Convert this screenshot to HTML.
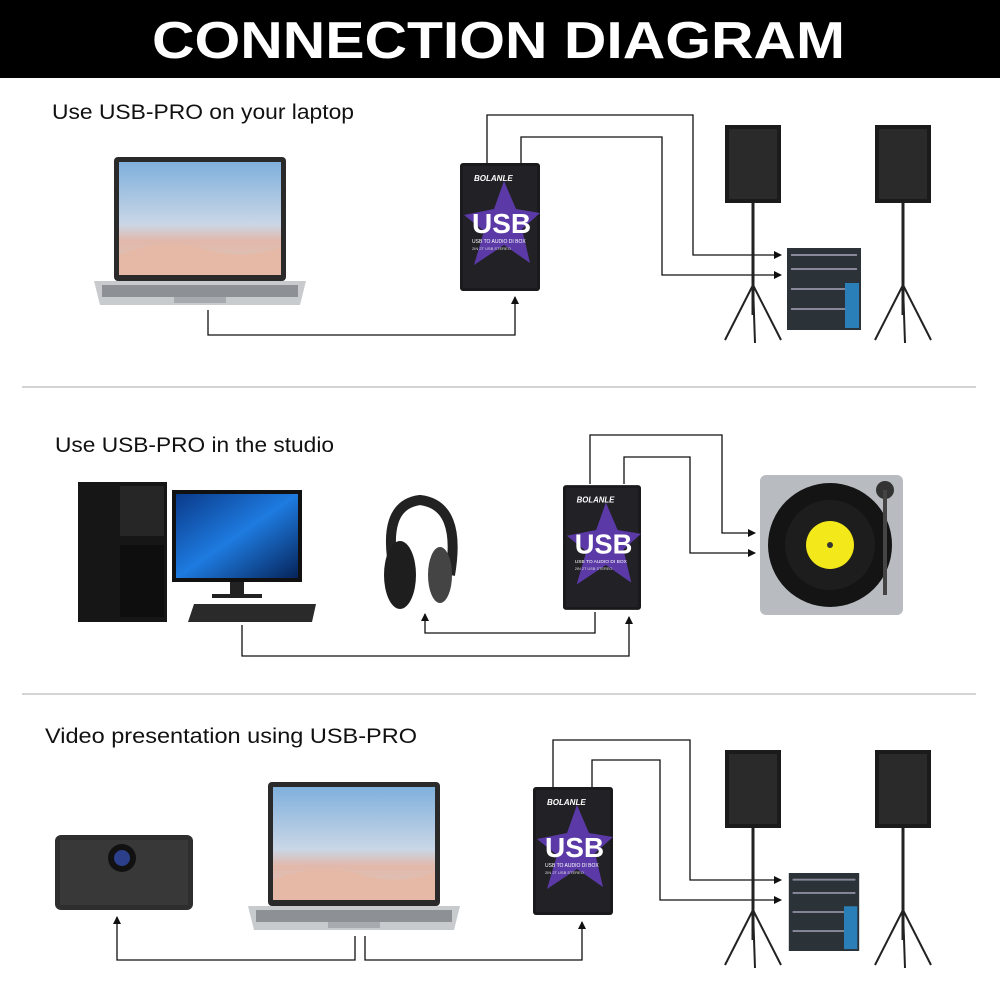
<!DOCTYPE html>
<html><head><meta charset="utf-8"><style>
html,body{margin:0;padding:0;background:#fff;}
svg{display:block;}
text{font-family:"Liberation Sans",sans-serif;}
</style></head><body>
<svg width="1000" height="1000" viewBox="0 0 1000 1000" xmlns="http://www.w3.org/2000/svg">
<defs>
<marker id="ar" markerWidth="8" markerHeight="8" refX="7" refY="4" orient="auto" markerUnits="userSpaceOnUse"><path d="M0,0 L8,4 L0,8 z" fill="#111"/></marker>
<linearGradient id="scr" x1="0" y1="0" x2="0" y2="1"><stop offset="0" stop-color="#7fb0dc"/><stop offset="0.55" stop-color="#c9d6e6"/><stop offset="0.7" stop-color="#e2b8aa"/><stop offset="1" stop-color="#d9c9c0"/></linearGradient>
<linearGradient id="win" x1="0" y1="0" x2="1" y2="1"><stop offset="0" stop-color="#0a3a8a"/><stop offset="0.5" stop-color="#1e7be0"/><stop offset="1" stop-color="#06245a"/></linearGradient>
<symbol id="usb" viewBox="0 0 80 128">
<rect x="0" y="0" width="80" height="128" rx="3" fill="#1a1a1d"/>
<rect x="3" y="3" width="74" height="122" fill="#222226"/>
<polygon points="44,18 56,46 80,50 62,66 70,100 44,82 14,102 24,68 4,52 34,46" fill="#5b3aa8"/>
<text x="14" y="18" font-size="8" font-style="italic" font-weight="bold" fill="#fff">BOLANLE</text>
<text x="12" y="70" font-size="28" font-weight="bold" fill="#fff">USB</text>
<text x="12" y="80" font-size="5" fill="#fff">USB TO AUDIO DI BOX</text>
<text x="12" y="87" font-size="4" fill="#ddd">2IN 2T USB STEREO</text>
</symbol>
<symbol id="spk" viewBox="0 0 60 220">
<rect x="2" y="0" width="56" height="78" fill="#1b1b1b"/>
<rect x="6" y="4" width="48" height="70" fill="#2a2a2a"/>
<line x1="30" y1="78" x2="30" y2="190" stroke="#222" stroke-width="3"/>
<line x1="30" y1="160" x2="2" y2="215" stroke="#222" stroke-width="2"/>
<line x1="30" y1="160" x2="58" y2="215" stroke="#222" stroke-width="2"/>
<line x1="30" y1="160" x2="32" y2="218" stroke="#222" stroke-width="2"/>
</symbol>
<symbol id="mix" viewBox="0 0 74 82">
<rect x="0" y="0" width="74" height="82" fill="#2c3338"/>
<rect x="4" y="6" width="66" height="2" fill="#889"/>
<rect x="4" y="20" width="66" height="2" fill="#889"/>
<rect x="4" y="40" width="66" height="2" fill="#889"/>
<rect x="4" y="60" width="66" height="2" fill="#889"/>
<rect x="58" y="35" width="14" height="45" fill="#2a7fb8"/>
</symbol>
<symbol id="lap" viewBox="0 0 212 150">
<rect x="20" y="0" width="172" height="124" rx="4" fill="#2a2a2a"/>
<rect x="25" y="5" width="162" height="113" fill="url(#scr)"/>
<path d="M25,98 Q70,80 110,92 T187,90 L187,118 L25,118 z" fill="#e6b9a6"/>
<path d="M0,124 L212,124 L206,148 L6,148 z" fill="#c8cbce"/>
<rect x="8" y="128" width="196" height="12" fill="#8d9094"/>
<rect x="80" y="140" width="52" height="6" fill="#a7aaae"/>
</symbol>
</defs>

<rect x="0" y="0" width="1000" height="78" fill="#000"/>
<text x="152" y="58" font-size="52" font-weight="bold" fill="#fff" textLength="693" lengthAdjust="spacingAndGlyphs">CONNECTION DIAGRAM</text>

<!-- Section 1 -->
<text x="52" y="119" font-size="21" fill="#111" textLength="302" lengthAdjust="spacingAndGlyphs">Use USB-PRO on your laptop</text>
<use href="#lap" x="94" y="157" width="212" height="150"/>
<use href="#usb" x="460" y="163" width="80" height="128"/>
<g fill="none" stroke="#111" stroke-width="1.3">
<polyline points="487,163 487,115 693,115 693,255 781,255" marker-end="url(#ar)"/>
<polyline points="521,163 521,137 662,137 662,275 781,275" marker-end="url(#ar)"/>
<polyline points="208,310 208,335 515,335 515,297" marker-end="url(#ar)"/>
</g>
<use href="#spk" x="723" y="125" width="60" height="220"/>
<use href="#spk" x="873" y="125" width="60" height="220"/>
<use href="#mix" x="787" y="248" width="74" height="82"/>

<line x1="22" y1="387" x2="976" y2="387" stroke="#aaa" stroke-width="1"/>

<!-- Section 2 -->
<text x="55" y="452" font-size="21" fill="#111" textLength="279" lengthAdjust="spacingAndGlyphs">Use USB-PRO in the studio</text>
<rect x="78" y="482" width="89" height="140" fill="#161616"/>
<rect x="120" y="486" width="44" height="50" fill="#262626"/>
<rect x="120" y="545" width="44" height="72" fill="#0e0e0e"/>
<rect x="172" y="490" width="130" height="92" fill="#111"/>
<rect x="176" y="494" width="122" height="84" fill="url(#win)"/>
<rect x="230" y="582" width="14" height="12" fill="#222"/>
<rect x="212" y="594" width="50" height="4" fill="#222"/>
<polygon points="194,604 316,604 312,622 188,622" fill="#2a2a2a"/>
<path d="M395,575 Q380,505 420,500 Q462,505 450,575" fill="none" stroke="#222" stroke-width="10"/>
<ellipse cx="400" cy="575" rx="16" ry="34" fill="#1e1e1e"/>
<ellipse cx="440" cy="575" rx="12" ry="28" fill="#444"/>
<use href="#usb" x="563" y="484" width="78" height="127"/>
<g fill="none" stroke="#111" stroke-width="1.3">
<polyline points="590,484 590,435 722,435 722,533 755,533" marker-end="url(#ar)"/>
<polyline points="624,484 624,457 690,457 690,553 755,553" marker-end="url(#ar)"/>
<polyline points="242,625 242,656 629,656 629,617" marker-end="url(#ar)"/>
<polyline points="595,612 595,633 425,633 425,614" marker-end="url(#ar)"/>
</g>
<rect x="760" y="475" width="143" height="140" rx="6" fill="#b8bcc0"/>
<circle cx="830" cy="545" r="62" fill="#141414"/>
<circle cx="830" cy="545" r="45" fill="#1d1d1d"/>
<circle cx="830" cy="545" r="24" fill="#f2e81a"/>
<circle cx="830" cy="545" r="3" fill="#333"/>
<circle cx="885" cy="490" r="9" fill="#333"/>
<line x1="885" y1="490" x2="885" y2="595" stroke="#444" stroke-width="4"/>

<line x1="22" y1="694" x2="976" y2="694" stroke="#aaa" stroke-width="1"/>

<!-- Section 3 -->
<text x="45" y="743" font-size="21" fill="#111" textLength="372" lengthAdjust="spacingAndGlyphs">Video presentation using USB-PRO</text>
<rect x="55" y="835" width="138" height="75" rx="6" fill="#2e2e2e"/>
<rect x="60" y="840" width="128" height="65" fill="#383838"/>
<circle cx="122" cy="858" r="14" fill="#111"/>
<circle cx="122" cy="858" r="8" fill="#2b3f8a"/>
<use href="#lap" x="248" y="782" width="212" height="150"/>
<use href="#usb" x="533" y="787" width="80" height="128"/>
<g fill="none" stroke="#111" stroke-width="1.3">
<polyline points="553,787 553,740 690,740 690,880 781,880" marker-end="url(#ar)"/>
<polyline points="592,787 592,760 660,760 660,900 781,900" marker-end="url(#ar)"/>
<polyline points="355,936 355,960 117,960 117,917" marker-end="url(#ar)"/>
<polyline points="365,936 365,960 582,960 582,922" marker-end="url(#ar)"/>
</g>
<use href="#spk" x="723" y="750" width="60" height="220"/>
<use href="#spk" x="873" y="750" width="60" height="220"/>
<use href="#mix" x="787" y="873" width="74" height="78"/>
</svg>
</body></html>
